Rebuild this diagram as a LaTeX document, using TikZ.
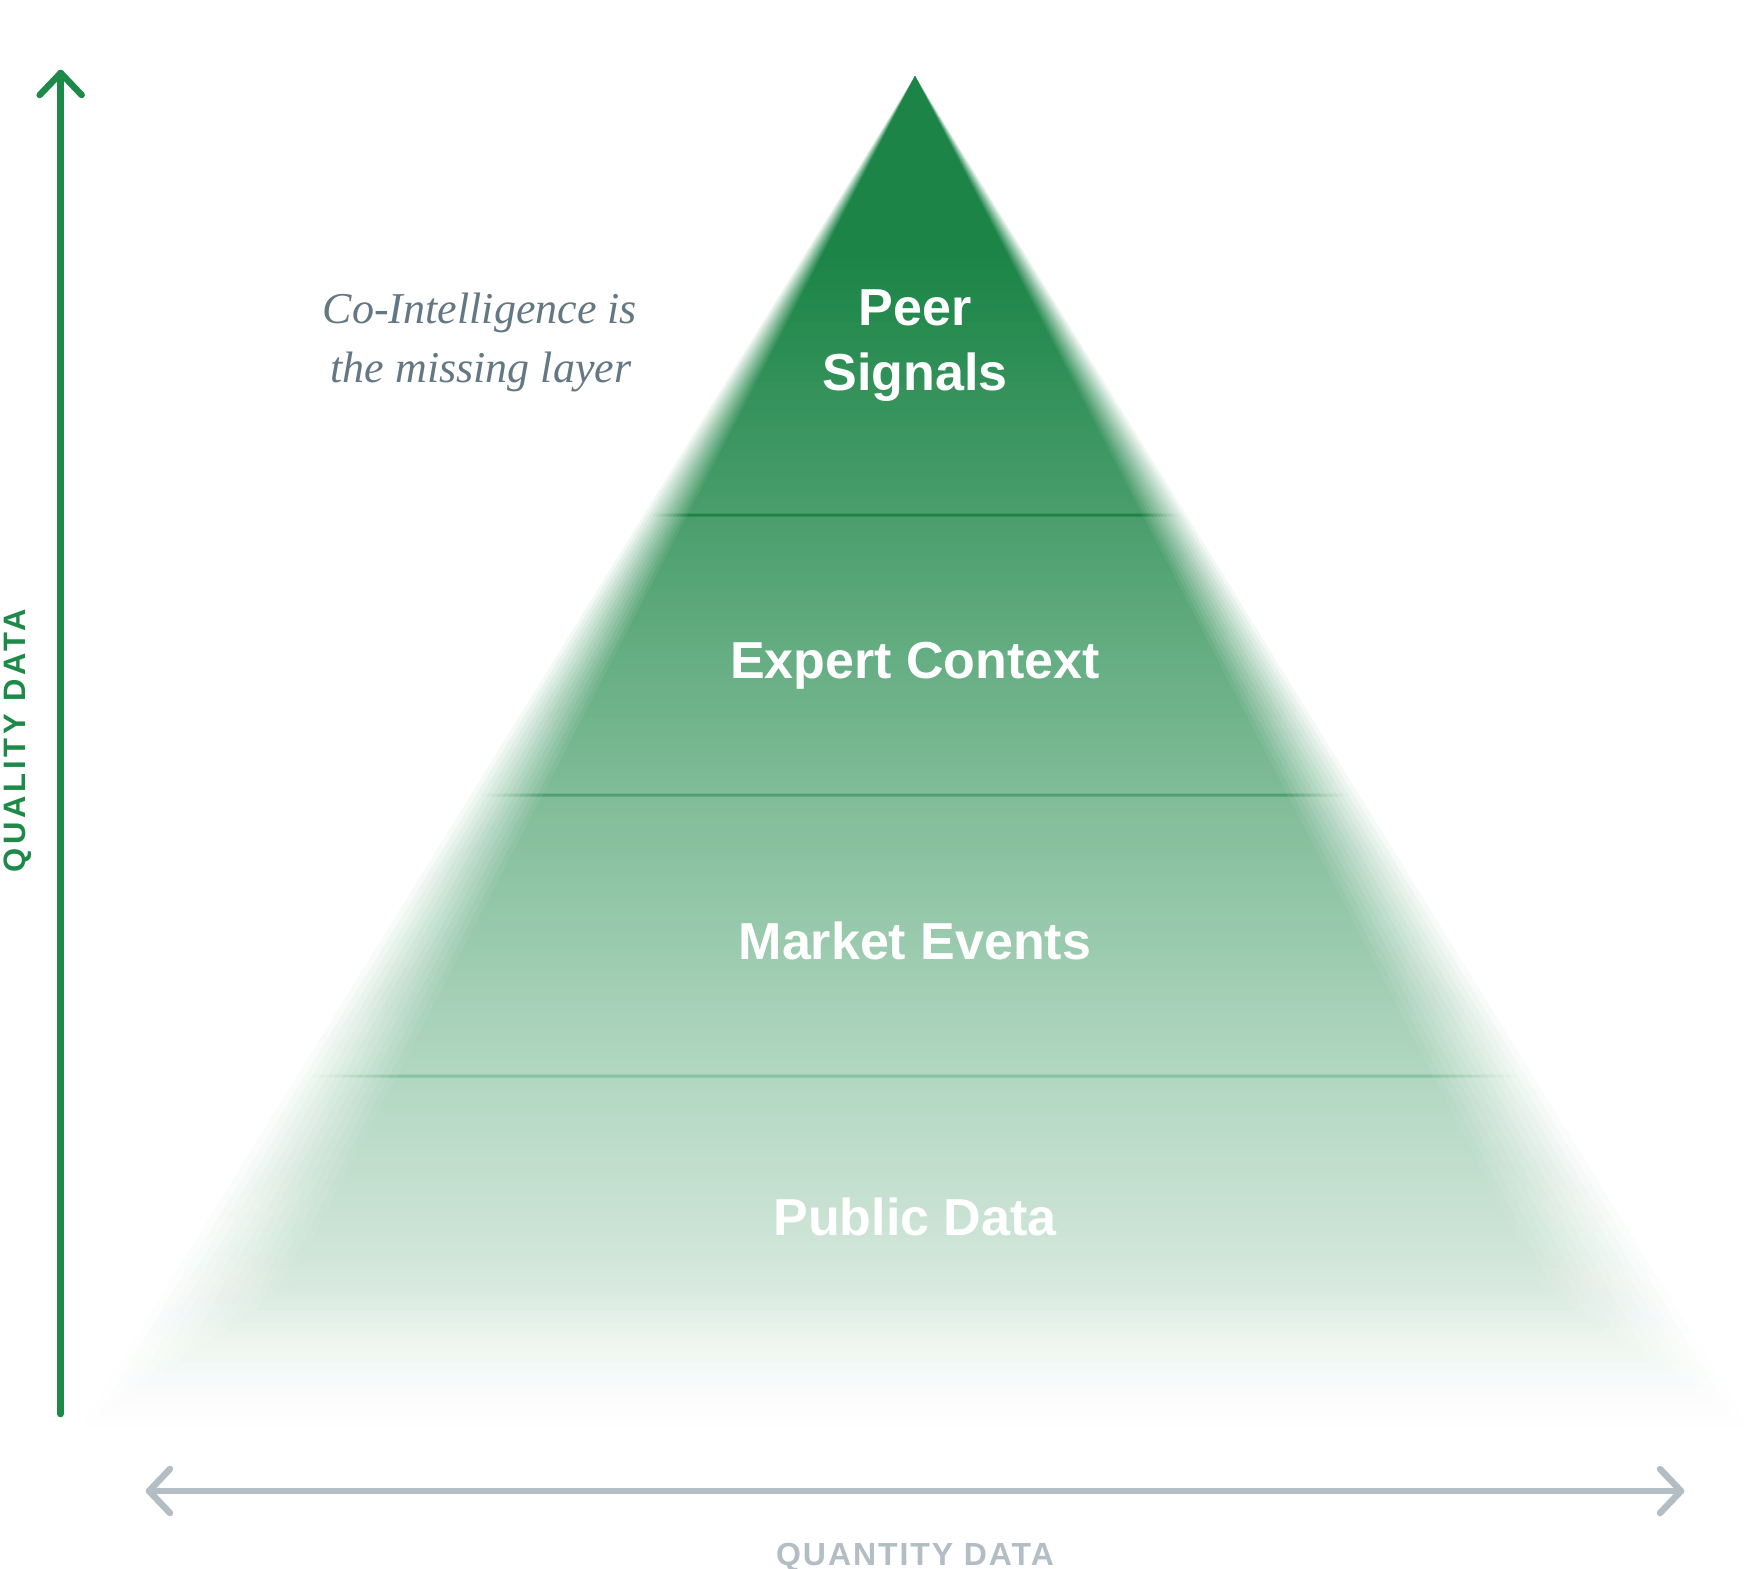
\documentclass[tikz,border=0pt]{standalone}
\usepackage{fontspec}
\usetikzlibrary{calc}
\newfontfamily\labfont{Liberation Sans}
\newfontfamily\serfont{Liberation Serif}
\newfontfamily\axisfont[LetterSpace=12]{Liberation Sans}
\newfontfamily\axisfontb[LetterSpace=6]{Liberation Sans}
\definecolor{axisgreen}{HTML}{1E8A4A}
\definecolor{axisgrey}{HTML}{B2BEC4}
\definecolor{notegrey}{HTML}{647884}
\definecolor{sepA}{HTML}{1D8446}
\definecolor{sepB}{HTML}{4EA06F}
\definecolor{sepC}{HTML}{88C39F}
\tikzset{
  axisline/.style={line width=6.5pt, line cap=round, line join=round},
  layerlabel/.style={text=white, font=\labfont\bfseries\fontsize{52}{62}\selectfont, anchor=base, inner sep=0pt},
  notetext/.style={text=notegrey, font=\serfont\itshape\fontsize{44}{52}\selectfont, anchor=base, inner sep=0pt},
  seprule/.style={line width=3pt},
}
\newcommand\pyrfill{%
  \foreach \ya/\yb/\ra/\ga/\ba/\rb/\gb/\bb in {76/255/27/132/70/27/132/70,
      255/515/27/132/70/74/158/108, 515/795/74/158/108/128/188/152,
      795/1076/128/188/152/178/215/193, 1076/1250/178/215/193/207/229/215,
      1250/1340/207/229/215/228/241/233, 1340/1430/228/241/233/252/254/253}{%
    \pgfmathtruncatemacro\nstrips{max(1,round((\yb-\ya)/6))}%
    \foreach \i in {1,...,\nstrips}{%
      \pgfmathsetmacro\myt{(\i-0.5)/\nstrips}%
      \pgfmathtruncatemacro\colr{round(\ra+(\rb-\ra)*\myt)}%
      \pgfmathtruncatemacro\colg{round(\ga+(\gb-\ga)*\myt)}%
      \pgfmathtruncatemacro\colb{round(\ba+(\bb-\ba)*\myt)}%
      \definecolor{stripc}{RGB}{\colr,\colg,\colb}%
      \pgfmathsetmacro\yy{\ya+(\i-1)*(\yb-\ya)/\nstrips}%
      \pgfmathsetmacro\yz{\ya+\i*(\yb-\ya)/\nstrips+0.6}%
      \fill[stripc] (0,\yy) rectangle (1757,\yz);
    }%
  }%
}
\newcommand\seplines{%
  \draw[sepA, seprule] (0,515) -- (1757,515);
  \draw[sepB, seprule] (0,795) -- (1757,795);
  \draw[sepC, seprule] (0,1076) -- (1757,1076);
}
\begin{document}
\begin{tikzpicture}[x=1pt, y=-1pt]
\fill[white] (0,0) rectangle (1757,1569);
\useasboundingbox (0,0) rectangle (1757,1569);

% blurred pyramid built from nested translucent layers
\foreach \k in {1,...,14}{
  \pgfmathsetmacro\alp{1/(15-\k)}
  \pgfmathsetmacro\sl{0.618-(\k-1)*0.10/13}
  \pgfmathsetmacro\bs{1425-(\k-1)*135/13}
  \pgfmathsetmacro\hw{\sl*(\bs-76)}
  \begin{scope}[transparency group, opacity=\alp]
    \clip (915,76) -- ({915-\hw},\bs) -- ({915+\hw},\bs) -- cycle;
    \pyrfill
    \ifnum\k>2 \seplines\fi
  \end{scope}
}

% layer labels
\node[layerlabel] (peer) at (915,325) {Peer};
\node[layerlabel] (signals) at (915,390) {Signals};
\node[layerlabel] (expert) at (915,678) {Expert Context};
\node[layerlabel] (market) at (915,959) {Market Events};
\node[layerlabel] (public) at (915,1235) {Public Data};

% side note
\node[notetext] (note1) at (480,323) {Co-Intelligence is};
\node[notetext] (note2) at (481,382) {the missing layer};

% vertical axis
\coordinate (ytop) at (60.7,73);
\coordinate (ybot) at (60.7,1414);
\draw[axisline, axisgreen] (ybot) -- (ytop);
\draw[axisline, axisgreen] ($(ytop)+(-21,22)$) -- (ytop) -- ($(ytop)+(21,22)$);
\node[rotate=90, anchor=base, inner sep=0pt, text=axisgreen,
      font=\axisfont\bfseries\fontsize{31}{36}\selectfont] (ylabel) at (25,740.5) {QUALITY DATA};

% horizontal axis
\coordinate (xl) at (149,1491);
\coordinate (xr) at (1681,1491);
\draw[axisline, axisgrey] (xl) -- (xr);
\draw[axisline, axisgrey] ($(xl)+(21,-22)$) -- (xl) -- ($(xl)+(21,22)$);
\draw[axisline, axisgrey] ($(xr)+(-21,-22)$) -- (xr) -- ($(xr)+(-21,22)$);
\node[anchor=base, inner sep=0pt, text=axisgrey,
      font=\axisfontb\bfseries\fontsize{32}{36}\selectfont] (xlabel) at (915,1565) {QUANTITY DATA};
\end{tikzpicture}
\end{document}
